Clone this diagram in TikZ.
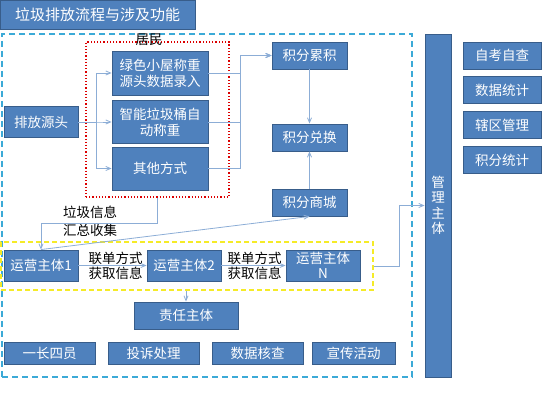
\documentclass[tikz,border=0pt]{standalone}
\usepackage{fontspec}
\setmainfont{Noto Sans CJK SC}
\usepackage{tikz}
\usetikzlibrary{arrows,calc,positioning,shapes}
\tikzset{
  blkbox/.style = {align=center, inner sep=1pt, rectangle, draw=my_edge, fill=my_blue, text=white,
  line width=0.9pt, font=\fontsize{13.5}{15.5}\selectfont},
  box_s/.style = {blkbox, minimum width=74pt, minimum height=31pt},
  box_m/.style = {blkbox, minimum width=96pt, minimum height=43pt, font=\fontsize{13.5}{16}\selectfont},
  box_p/.style = {blkbox, minimum width=75pt, minimum height=27pt},
  box_r/.style = {blkbox, minimum width=78pt, minimum height=27pt},
  box_b/.style = {blkbox, minimum width=91pt, minimum height=22pt},
  lbl/.style = {align=left, inner sep=0pt, text=black, font=\fontsize{13.5}{15}\selectfont}
}
\definecolor{my_blue}{RGB}{79, 129, 189}
\definecolor{my_edge}{RGB}{56, 93, 138}
\definecolor{my_line}{RGB}{140, 173, 214}
\definecolor{my_cyan}{RGB}{60, 170, 215}
\definecolor{my_yellow}{RGB}{245, 235, 40}
\definecolor{my_red}{RGB}{220, 0, 0}
\begin{document}
\begin{tikzpicture}[x=1pt, y=1pt, >=angle 45,
        conn/.style={->, draw=my_line, line width=0.8pt},
        frame/.style={inner sep=0pt, fill=none}]
    \useasboundingbox (0,0) rectangle (554,415);
    % frames
    \node [frame, draw=my_cyan, line width=1.4pt, dash pattern=on 6pt off 4pt,
        minimum width=410pt, minimum height=343pt] (whole) at (207,209.5) {};
    \node [frame, draw=my_red, line width=1.2pt, dotted,
        minimum width=143pt, minimum height=155pt] (residents) at (157.5,295.5) {};
    \node [frame, draw=my_yellow, line width=1.3pt, dash pattern=on 5pt off 3pt,
        minimum width=372pt, minimum height=48pt] (ops) at (187,149) {};
    \node [lbl] (res_lbl) at (149,375) {居民};

    % title
    \node [blkbox, minimum width=195pt, minimum height=29pt, font=\fontsize{15}{17}\selectfont] (title) at (97.5,400.5) {垃圾排放流程与涉及功能};

    % source side
    \node [box_s] (src) at (41,293) {排放源头};
    \node [box_m, minimum height=44pt] (green) at (160,342) {绿色小屋称重\\源头数据录入};
    \node [box_m] (bin) at (160,293) {智能垃圾桶自\\动称重};
    \node [box_m] (other) at (160,246.5) {其他方式};

    % points
    \node [box_p] (acc) at (309.5,359.5) {积分累积};
    \node [box_p] (exch) at (309.5,277.5) {积分兑换};
    \node [box_p] (mall) at (309.5,212.5) {积分商城};

    % operators
    \node [box_s] (op1) at (41,149.5) {运营主体1};
    \node [box_s] (op2) at (184,149.5) {运营主体2};
    \node [box_s, font=\fontsize{13.5}{15}\selectfont] (opN) at (323,149.5) {运营主体\\N};
    \node [lbl] (link1) at (115.5,149.5) {联单方式\\获取信息};
    \node [lbl] (link2) at (254.5,149.5) {联单方式\\获取信息};
    \node [lbl, font=\fontsize{13.5}{18}\selectfont] (info) at (90,194) {垃圾信息\\汇总收集};

    \node [blkbox, minimum width=104pt, minimum height=27pt] (resp) at (186,99.5) {责任主体};
    \node [box_b] (duty) at (49.5,62) {一长四员};
    \node [box_b] (complain) at (153.5,62) {投诉处理};
    \node [box_b] (check) at (257.5,62) {数据核查};
    \node [box_b, minimum width=83pt] (promo) at (353.5,62) {宣传活动};

    % management
    \node [blkbox, minimum width=26pt, minimum height=343pt] (mgmt) at (438,209.5) {管\\理\\主\\体};
    \node [box_r] (self) at (502,359.5) {自考自查};
    \node [box_r] (stat) at (502,325) {数据统计};
    \node [box_r] (area) at (502,290) {辖区管理};
    \node [box_r] (score) at (502,255) {积分统计};

    % connectors
    \draw [conn] (src.east) -- ++(18,0) |- (green.west);
    \draw [conn] (src.east) -- ++(18,0) |- (bin.west);
    \draw [conn] (src.east) -- ++(18,0) |- (other.west);
    \draw [conn] (green.east) -- ++(32,0) |- (acc.west);
    \draw [conn] (bin.east) -- ++(32,0) |- (acc.west);
    \draw [conn] (other.east) -- ++(32,0) |- (acc.west);
    \draw [conn] (acc) -- (exch);
    \draw [conn] (mall) -- (exch);
    \draw [conn] (residents.south) -- ++(0,-26) -| (op1.north);
    \draw [conn] (op1.north) -- (mall.south);
    \draw [conn] (op1) -- (op2);
    \draw [conn] (op2) -- (opN);
    \draw [conn] (ops.east) -- ++(26,0) |- (mgmt.west);
    \draw [conn] (ops.south -| resp.north) -- (resp.north);
\end{tikzpicture}
\end{document}
